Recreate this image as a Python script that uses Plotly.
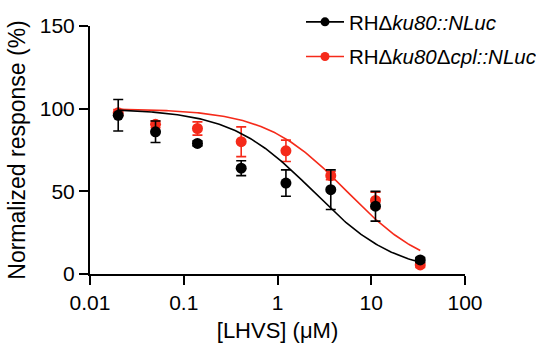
import numpy as np
import plotly.graph_objects as go

# Concentrations (uM)
conc = [0.02, 0.05, 0.14, 0.41, 1.23, 3.7, 11.1, 33.3]

# RHΔku80::NLuc (black)
wt_mean = [96, 86, 79, 64, 55, 51, 41, 8.5]
wt_err = [9.5, 6.5, 1.5, 4.5, 8, 12, 9, 1.5]

# RHΔku80Δcpl::NLuc (red)
cpl_mean = [97.5, 90.5, 88, 80, 74.5, 59.5, 44.5, 5.5]
cpl_err = [2, 2, 4, 9, 6.5, 2.5, 5, 1.5]

# Four-parameter dose-response fit parameters
wt_fit = dict(top=100, bottom=0, ic50=2.4, hill=0.98)
cpl_fit = dict(top=100, bottom=0, ic50=5.5, hill=1.0)

x_ticks = [0.01, 0.1, 1, 10, 100]
x_ticktext = ["0.01", "0.1", "1", "10", "100"]
y_ticks = [0, 50, 100, 150]

BLACK = "#000000"
RED = "#F52A1A"
FONT = "Liberation Sans, Arial, sans-serif"


def hill(x, p):
    x = np.asarray(x)
    return p["bottom"] + (p["top"] - p["bottom"]) / (1 + (x / p["ic50"]) ** p["hill"])


xfit = np.logspace(np.log10(conc[0]), np.log10(conc[-1]), 200)

fig = go.Figure()

series = [
    ("RHΔ<i>ku80</i>Δ<i>cpl::NLuc</i>", cpl_mean, cpl_err, cpl_fit, RED, 2),
    ("RHΔ<i>ku80::NLuc</i>", wt_mean, wt_err, wt_fit, BLACK, 1),
]

for name, mean, err, fit, color, rank in series:
    fig.add_trace(go.Scatter(
        x=xfit, y=hill(xfit, fit), mode="lines",
        line=dict(color=color, width=1.6), showlegend=False, hoverinfo="skip"))
    fig.add_trace(go.Scatter(
        x=conc, y=mean, mode="markers",
        marker=dict(color=color, size=11),
        error_y=dict(type="data", array=err, color=color, thickness=1.6, width=5),
        showlegend=False))
    fig.add_trace(go.Scatter(
        x=[None], y=[None], mode="lines+markers", name=name,
        line=dict(color=color, width=1.6), marker=dict(color=color, size=9),
        legendrank=rank, legendgroup=name))

fig.update_layout(
    template="none",
    width=536, height=348,
    margin=dict(l=90, r=71, t=26, b=74, autoexpand=False),
    paper_bgcolor="white", plot_bgcolor="white",
    font=dict(family=FONT, size=21, color="black"),
    showlegend=True,
    legend=dict(x=301 / 536, y=1 - 2 / 348, xref="container", yref="container",
                xanchor="left", yanchor="top", itemwidth=38,
                font=dict(size=20.5, family=FONT), tracegroupgap=5,
                bgcolor="rgba(0,0,0,0)", borderwidth=0, traceorder="grouped"),
    xaxis=dict(type="log", range=[-2, 2], tickvals=x_ticks, ticktext=x_ticktext,
               showline=True, linecolor="black", linewidth=2, automargin=False,
               ticks="outside", ticklen=9, tickwidth=2, tickcolor="black",
               showgrid=False, zeroline=False,
               title=dict(text="[LHVS] (μM)", font=dict(size=22), standoff=9)),
    yaxis=dict(range=[0, 150], tickvals=y_ticks, automargin=False,
               showline=True, linecolor="black", linewidth=2,
               ticks="outside", ticklen=9, tickwidth=2, tickcolor="black",
               showgrid=False, zeroline=False,
               title=dict(text="Normalized response (%)", font=dict(size=23), standoff=8)),
)

fig.write_html("out.html", config={"displayModeBar": False},
               post_script="document.body.style.margin='0px';")
